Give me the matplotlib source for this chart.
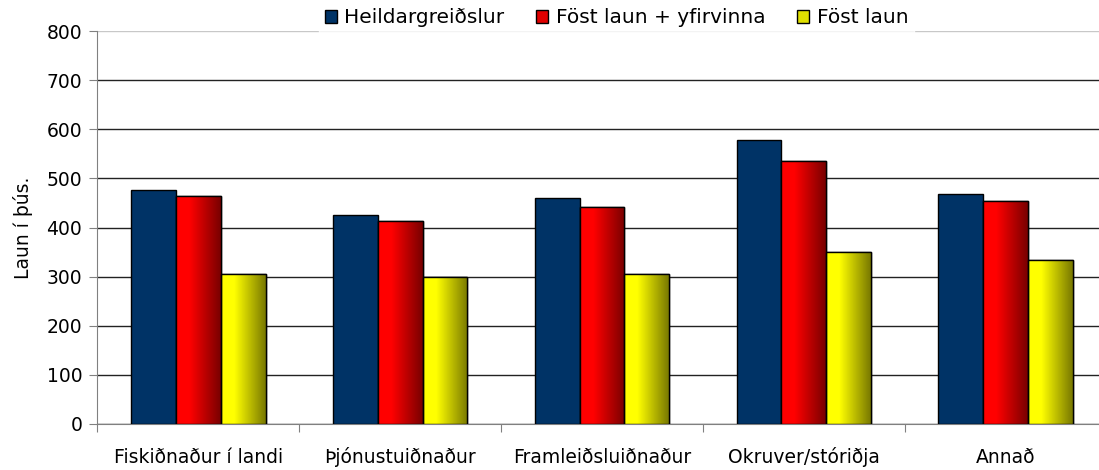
import numpy as np
import matplotlib
matplotlib.use("Agg")
import matplotlib.pyplot as plt
from matplotlib.colors import LinearSegmentedColormap
from matplotlib.patches import Patch

# data
categories = ["Fiskiðnaður í landi", "Þjónustuiðnaður", "Framleiðsluiðnaður",
              "Okruver/stóriðja", "Annað"]
heildar = [477, 426, 460, 578, 469]
fost_yfir = [465, 414, 442, 535, 455]
fost = [305, 300, 305, 351, 334]
series_names = ["Heildargreiðslur", "Föst laun + yfirvinna", "Föst laun"]

plt.rcParams['font.family'] = ['DejaVu Sans']
fs = 13.5

fig = plt.figure(figsize=(10.99, 4.70), dpi=100)
ax = fig.add_axes([0.0887, 0.0979, 0.918, 0.836])

x = np.arange(len(categories))
w = 0.222

red_cmap = LinearSegmentedColormap.from_list(
    "r", [(0, "#ff0000"), (0.3, "#ff0000"), (1, "#780000")])
yel_cmap = LinearSegmentedColormap.from_list(
    "y", [(0, "#ffff00"), (0.3, "#ffff00"), (1, "#787800")])

b1 = ax.bar(x - w, heildar, w, color="#003366", edgecolor="black", linewidth=1, zorder=3)
b2 = ax.bar(x, fost_yfir, w, color="#ff0000", edgecolor="black", linewidth=1, zorder=3)
b3 = ax.bar(x + w, fost, w, color="#ffff00", edgecolor="black", linewidth=1, zorder=3)

grad = np.linspace(0, 1, 256).reshape(1, -1)
for bars, cm in [(b2, red_cmap), (b3, yel_cmap)]:
    for p in bars:
        x0, y0 = p.get_x(), p.get_y()
        im = ax.imshow(grad, cmap=cm, aspect="auto", zorder=3.5,
                       extent=[x0, x0 + p.get_width(), y0, y0 + p.get_height()])
        im.set_clip_path(p)
        # edge on top of gradient
        ax.add_patch(plt.Rectangle((x0, y0), p.get_width(), p.get_height(),
                                   fill=False, edgecolor="black", linewidth=1, zorder=4))

ax.set_xlim(-0.5, len(categories) - 0.5)
ax.set_ylim(0, 800)
ax.set_yticks(range(0, 801, 100))
ax.tick_params(axis="y", labelsize=fs, length=6, color="#808080", pad=5)

ax.set_xticks(np.arange(-0.5, len(categories), 1))
ax.set_xticklabels([])
ax.tick_params(axis="x", which="major", length=6, color="#808080")
ax.set_xticks(x, minor=True)
ax.set_xticklabels(categories, minor=True, fontsize=fs)
ax.tick_params(axis="x", which="minor", length=0, pad=28)
for lbl in ax.get_xticklabels(minor=True):
    lbl.set_verticalalignment("baseline")

ax.yaxis.grid(True, color="#222222", linewidth=1, zorder=0)
ax.yaxis.get_gridlines()[-1].set_color("#c8c8c8")
ax.set_axisbelow(True)

for s in ["top", "right"]:
    ax.spines[s].set_visible(False)
ax.spines["left"].set_color("#808080")
ax.spines["bottom"].set_color("#808080")

ax.set_ylabel("Laun í þús.", fontsize=fs, labelpad=10)

handles = [Patch(facecolor="#003366", edgecolor="black"),
           Patch(facecolor="#e00000", edgecolor="black"),
           Patch(facecolor="#e0e000", edgecolor="black")]
leg = fig.legend(handles, series_names, loc="center", bbox_to_anchor=(0.561, 0.962),
                 ncol=3, fontsize=14.5, frameon=True, fancybox=False,
                 handlelength=0.6, handleheight=0.6, handletextpad=0.35,
                 columnspacing=1.6, borderpad=0.3)
leg.get_frame().set_facecolor("white")
leg.get_frame().set_edgecolor("white")

fig.savefig("out.png", dpi=100)
